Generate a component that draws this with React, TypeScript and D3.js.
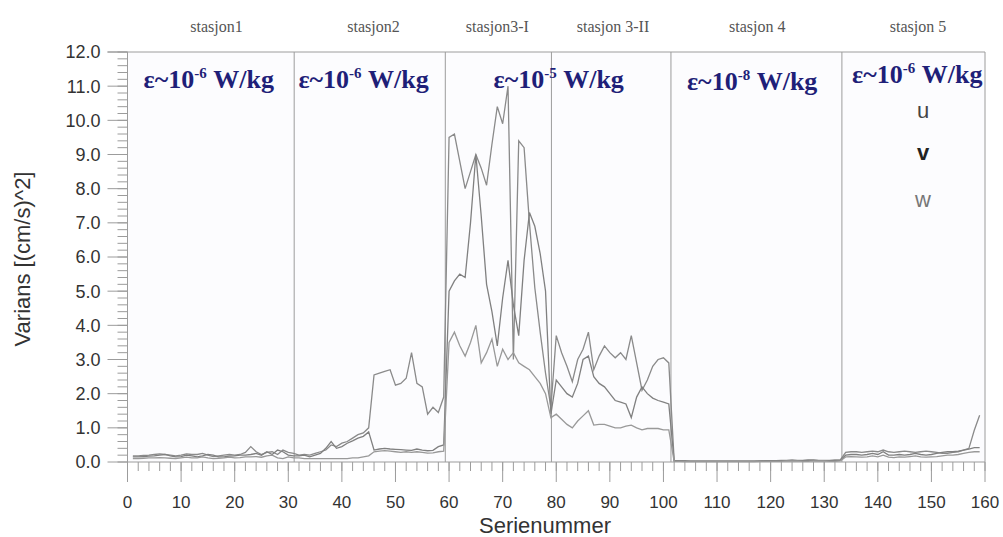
import React from "react";
import * as d3 from "d3";

const W = 1003;
const H = 537;

// station header labels and the data x where each is centred
const stations = ["stasjon1", "stasjon2", "stasjon3-I", "stasjon 3-II", "stasjon 4", "stasjon 5"];
const stationCentre = [16.6, 45.9, 69, 90.6, 117.5, 147.5];
// vertical station dividers (serienummer)
const stationEdges = [31.1, 59.3, 79.1, 101.4, 133.3];

// dissipation estimates per station
const epsExponent = ["-6", "-6", "-5", "-8", "-6"];
const epsStart = [3, 31.9, 68.3, 104.4, 135.2];

const legendNames = ["u", "v", "w"];

// variance per series, serienummer 1..159
const seriesU = [
  0.18, 0.18, 0.19, 0.2, 0.22, 0.24, 0.22, 0.2, 0.18, 0.2, 0.24, 0.22, 0.22, 0.25, 0.2, 0.16, 0.18, 0.2, 0.22, 0.2,
  0.22, 0.28, 0.45, 0.3, 0.22, 0.28, 0.3, 0.22, 0.35, 0.28, 0.25,
  0.2, 0.22, 0.2, 0.25, 0.3, 0.35, 0.5, 0.45, 0.55, 0.6, 0.7, 0.8, 0.85, 1.0,
  2.55, 2.6, 2.65, 2.7, 2.25, 2.3, 2.45, 3.2, 2.3, 2.2, 1.4, 1.6, 1.45, 1.9,
  9.5, 9.6, 8.8, 8.0, 8.5, 9.0, 8.6, 8.1, 9.3, 10.4, 9.9, 11.0, 3.0, 9.4, 9.2, 7.0, 5.1, 3.8, 2.6, 1.6,
  3.7, 3.2, 2.8, 2.35, 3.0, 3.3, 3.8, 2.7, 3.1, 3.4, 3.2, 3.05, 3.2, 3.0, 3.7, 2.9, 2.1, 2.4, 2.8, 3.0, 3.05, 2.9,
  0.05, 0.04, 0.04, 0.03, 0.03, 0.03, 0.03, 0.03, 0.03, 0.03, 0.03, 0.03, 0.03, 0.03, 0.03, 0.03,
  0.03, 0.04, 0.04, 0.04, 0.05, 0.05, 0.06, 0.05, 0.05, 0.06, 0.06, 0.05, 0.05, 0.05, 0.06, 0.06,
  0.28, 0.3, 0.3, 0.28, 0.3, 0.32, 0.3, 0.35, 0.3, 0.28, 0.3, 0.32, 0.3, 0.28, 0.3, 0.32, 0.3, 0.28, 0.25, 0.25,
  0.28, 0.3, 0.35, 0.4, 0.93, 1.37,
];
const seriesV = [
  0.15, 0.15, 0.16, 0.17, 0.18, 0.2, 0.22, 0.18, 0.15, 0.16, 0.2, 0.18, 0.15, 0.18, 0.22, 0.2, 0.15, 0.15, 0.17, 0.18,
  0.2, 0.2, 0.22, 0.25, 0.2, 0.3, 0.22, 0.35, 0.3, 0.2, 0.18,
  0.18, 0.2, 0.15, 0.2, 0.25, 0.4, 0.6, 0.4, 0.45, 0.55, 0.62, 0.7, 0.75, 0.88,
  0.35, 0.38, 0.4, 0.38, 0.37, 0.36, 0.35, 0.34, 0.38, 0.35, 0.33, 0.34, 0.45, 0.5,
  5.0, 5.3, 5.5, 5.4, 7.0, 9.0, 7.2, 5.2, 4.4, 3.4, 4.8, 5.9, 4.6, 3.7, 5.9, 7.3, 6.9, 6.1, 5.0, 1.4,
  2.4, 2.2, 2.0, 1.9, 2.3, 3.0, 3.1, 2.5, 2.3, 2.2, 2.0, 1.8, 1.75, 1.7, 1.3, 1.9, 2.2, 2.0, 1.87, 1.8, 1.75, 1.7,
  0.03, 0.03, 0.02, 0.02, 0.02, 0.02, 0.02, 0.02, 0.02, 0.02, 0.02, 0.02, 0.02, 0.02, 0.02, 0.02,
  0.03, 0.03, 0.03, 0.03, 0.04, 0.04, 0.04, 0.04, 0.04, 0.05, 0.05, 0.04, 0.04, 0.04, 0.04, 0.05,
  0.2, 0.22, 0.22, 0.2, 0.22, 0.25, 0.22, 0.3, 0.2, 0.2, 0.22, 0.2, 0.22, 0.25, 0.22, 0.2, 0.22, 0.25, 0.28, 0.3,
  0.3, 0.32, 0.35, 0.38, 0.42, 0.42,
];
const seriesW = [
  0.1, 0.1, 0.11, 0.12, 0.12, 0.13, 0.12, 0.11, 0.1, 0.12, 0.14, 0.12, 0.12, 0.15, 0.12, 0.1, 0.11, 0.12, 0.14, 0.12,
  0.13, 0.15, 0.15, 0.16, 0.14, 0.18, 0.2, 0.12, 0.1, 0.15, 0.12,
  0.12, 0.1, 0.1, 0.1, 0.1, 0.1, 0.1, 0.1, 0.1, 0.1, 0.12, 0.12, 0.15, 0.18,
  0.3, 0.32, 0.33, 0.32, 0.3, 0.28, 0.3, 0.28, 0.3, 0.28, 0.26, 0.27, 0.3, 0.32,
  3.5, 3.8, 3.4, 3.1, 3.5, 4.0, 2.9, 3.2, 3.6, 2.8, 3.3, 3.0, 3.2, 2.9, 2.8, 2.7, 2.5, 2.3, 2.0, 1.3,
  1.4, 1.25, 1.1, 1.0, 1.2, 1.35, 1.5, 1.08, 1.1, 1.1, 1.05, 1.0, 1.0, 1.05, 1.08, 1.0, 0.94, 0.98, 0.98, 0.98, 0.94, 0.94,
  0.02, 0.02, 0.01, 0.01, 0.01, 0.01, 0.01, 0.01, 0.01, 0.01, 0.01, 0.01, 0.01, 0.01, 0.01, 0.01,
  0.02, 0.02, 0.02, 0.02, 0.02, 0.03, 0.03, 0.03, 0.02, 0.02, 0.03, 0.03, 0.03, 0.02, 0.02, 0.03,
  0.15, 0.16, 0.15, 0.14, 0.15, 0.18, 0.15, 0.2, 0.14, 0.13, 0.15, 0.14, 0.16, 0.18, 0.15, 0.14, 0.15, 0.16, 0.18, 0.2,
  0.2, 0.22, 0.25, 0.28, 0.3, 0.3,
];

const SANS = "'Liberation Sans', Arial, sans-serif";
const SERIF = "'Liberation Serif', 'Times New Roman', serif";
const FRAME = "#9c9c9c";

export default function App() {
  const x = d3.scaleLinear().domain([0, 160]).range([127.5, 985]);
  const y = d3.scaleLinear().domain([0, 12]).range([462, 52]);
  const x0 = x(0);

  const line = d3
    .line<number>()
    .x((_, i) => x(i + 1))
    .y((d) => y(d));

  const yMajor = y.ticks(12);
  const yMinor = y.ticks(60);
  const xMajor = x.ticks(16);
  const xMinor = x.ticks(80);

  return (
    <svg width={W} height={H} style={{ position: "absolute", left: 0, top: 0, background: "#fff" }}>
      <rect x={x0} y={y(12)} width={x(160) - x0} height={y(0) - y(12)} fill="#fcfcfe" />

      {/* station headers */}
      {stations.map((s, i) => (
        <text key={s} x={x(stationCentre[i])} y={32} textAnchor="middle" fontFamily={SERIF} fontSize={16} fill="#555">
          {s}
        </text>
      ))}

      {/* station dividers */}
      {stationEdges.map((e) => (
        <line key={e} x1={x(e)} x2={x(e)} y1={y(12)} y2={y(0)} stroke={FRAME} strokeWidth={1} />
      ))}

      {/* frame */}
      <line x1={x0 - 20} x2={x(160)} y1={y(12)} y2={y(12)} stroke={FRAME} />
      <line x1={x(160)} x2={x(160)} y1={y(12)} y2={y(0)} stroke={FRAME} />
      <line x1={x0} x2={x0} y1={y(12)} y2={y(0)} stroke={FRAME} />
      <line x1={x0} x2={x(160)} y1={y(0)} y2={y(0)} stroke={FRAME} />

      {/* y axis */}
      {yMinor.map((t) => (
        <line key={"ym" + t} x1={x0 - 10} x2={x0} y1={y(t)} y2={y(t)} stroke={FRAME} />
      ))}
      {yMajor.map((t) => (
        <g key={"y" + t}>
          <line x1={x0 - 20} x2={x0} y1={y(t)} y2={y(t)} stroke={FRAME} />
          <text x={x0 - 27} y={y(t)} dy="0.36em" textAnchor="end" fontFamily={SANS} fontSize={18} fill="#333">
            {d3.format(".1f")(t)}
          </text>
        </g>
      ))}

      {/* x axis */}
      {xMinor.map((t) => (
        <line key={"xm" + t} x1={x(t)} x2={x(t)} y1={y(0)} y2={y(0) + 9} stroke={FRAME} />
      ))}
      {xMajor.map((t) => (
        <g key={"x" + t}>
          <line x1={x(t)} x2={x(t)} y1={y(0)} y2={y(0) + 20} stroke={FRAME} />
          <text x={x(t)} y={508} textAnchor="middle" fontFamily={SANS} fontSize={17} fill="#333">
            {t}
          </text>
        </g>
      ))}

      {/* series */}
      {[seriesU, seriesV, seriesW].map((s, i) => (
        <path key={i} d={line(s) ?? ""} fill="none" stroke={["#8a8a8a", "#808080", "#999"][i]} strokeWidth={1.3} />
      ))}

      {/* epsilon labels */}
      {epsExponent.map((e, i) => (
        <text
          key={"eps" + i}
          x={x(epsStart[i])}
          y={[88, 88, 88, 90, 83][i]}
          fontFamily={SERIF}
          fontWeight="bold"
          fontSize={26}
          fill="#1f1f78"
        >
          <tspan>ε~10</tspan>
          <tspan dy={-10} fontSize={15}>
            {e}
          </tspan>
          <tspan dy={10}> W/kg</tspan>
        </text>
      ))}

      {/* legend */}
      {legendNames.map((n, i) => (
        <text
          key={n}
          x={923}
          y={[118, 160, 207][i]}
          textAnchor="middle"
          fontFamily={SANS}
          fontSize={22}
          fontWeight={i === 1 ? "bold" : "normal"}
          fill={["#444", "#222", "#777"][i]}
        >
          {n}
        </text>
      ))}

      {/* axis titles */}
      <text x={545} y={533} textAnchor="middle" fontFamily={SANS} fontSize={22} fill="#333">
        Serienummer
      </text>
      <text
        transform="translate(30,259) rotate(-90)"
        textAnchor="middle"
        fontFamily={SANS}
        fontSize={22}
        fill="#333"
      >
        Varians [(cm/s)^2]
      </text>
    </svg>
  );
}
